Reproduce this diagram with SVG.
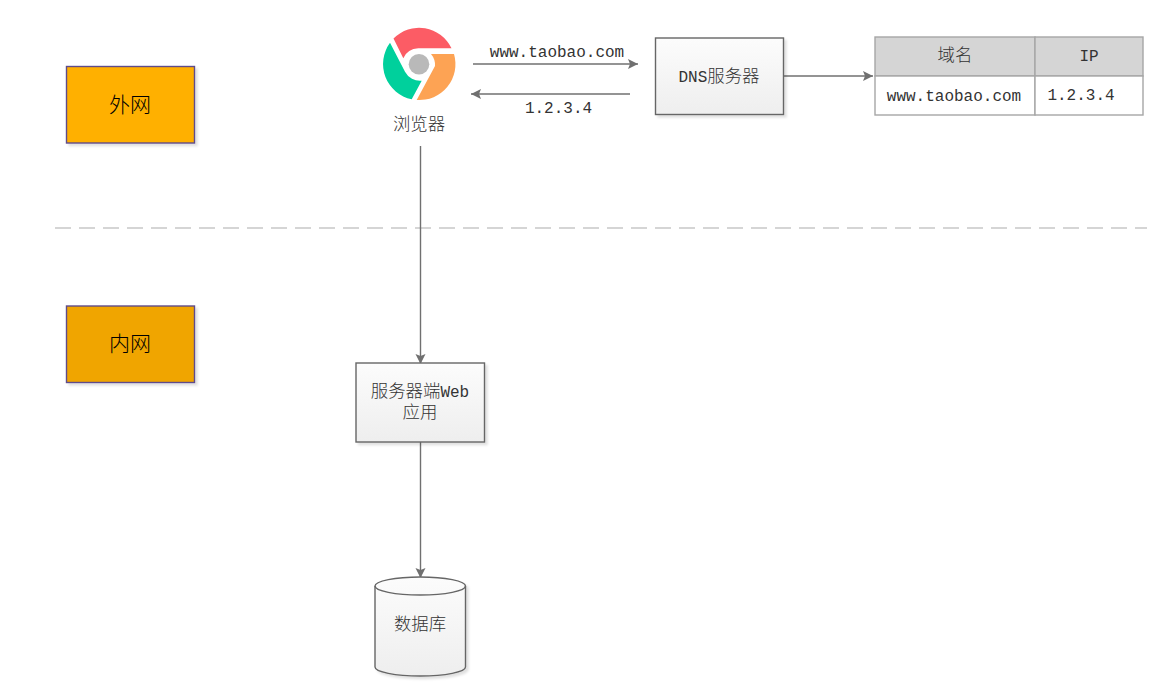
<svg xmlns="http://www.w3.org/2000/svg" width="1176" height="700" viewBox="0 0 1176 700">
<style>
.t{font-family:"Liberation Mono","Noto Sans CJK SC",monospace;font-size:16px;fill:#333;text-anchor:middle}
.c{font-family:"Noto Sans CJK SC","Liberation Serif",serif;font-size:17.4px;font-weight:300;fill:#333;text-anchor:middle}
.m{font-family:"Liberation Mono",monospace;font-size:16px}
.big{font-family:"Noto Sans CJK SC",serif;font-size:21px;font-weight:300;fill:#000;text-anchor:middle}
.box{fill:url(#g);stroke:#666;stroke-width:1.4;filter:url(#s)}
.zone{stroke:#5f4b8b;stroke-width:1.4;filter:url(#s)}
.cn{fill:none;stroke:#707070;stroke-width:1.4}
.cell{stroke:#a6a6a6;stroke-width:1.4}
</style>
<defs>
<linearGradient id="g" x1="0" y1="0" x2="0" y2="1"><stop offset="0" stop-color="#fcfcfc"/><stop offset="1" stop-color="#eeeeee"/></linearGradient>
<filter id="s" x="-10%" y="-10%" width="120%" height="120%"><feDropShadow dx="2.500" dy="2.500" stdDeviation="1.200" flood-color="#000" flood-opacity="0.120"/></filter>
<marker id="a" markerUnits="userSpaceOnUse" markerWidth="11" markerHeight="11" refX="10" refY="5.500" orient="auto"><path d="M0 0.500L10 5.500L0 10.500L2 5.500Z" fill="#707070"/></marker>
</defs>
<g id="connectors">
<line x1="55" y1="228" x2="1147" y2="228" stroke="#c8c8c8" stroke-width="1.400" stroke-dasharray="16 8"/>
<line class="cn" x1="473" y1="64" x2="638" y2="64" marker-end="url(#a)"/>
<line class="cn" x1="630" y1="94" x2="471" y2="94" marker-end="url(#a)"/>
<line class="cn" x1="784" y1="76" x2="873" y2="76" marker-end="url(#a)"/>
<line class="cn" x1="420.500" y1="146" x2="420.500" y2="364" marker-end="url(#a)"/>
<line class="cn" x1="420.500" y1="442" x2="420.500" y2="578" marker-end="url(#a)"/>
</g>
<g id="zone-outer"><rect class="zone" x="66.500" y="66.500" width="128" height="76.500" fill="#ffb000"/><text class="big" x="130" y="112">外网</text></g>
<g id="zone-inner"><rect class="zone" x="66.500" y="306" width="128" height="76.500" fill="#f0a500"/><text class="big" x="130" y="351">内网</text></g>
<g id="browser">
<path d="M393.500 38.500A36 36 0 0 1 451.500 48.300H418.300A17 17 0 0 0 403.300 58.300Z" fill="#fc5c65"/>
<path d="M431 54H454A36 36 0 0 1 416.700 100L435 66A17 17 0 0 0 431 54Z" fill="#fda354"/>
<path d="M390 42.800L405 71.700A17 17 0 0 0 421.700 80.700L411.700 99.300A36 36 0 0 1 390 42.800Z" fill="#00d09c"/>
<circle cx="419" cy="64.300" r="10.300" fill="#b9b9b9"/>
<text class="c" x="419" y="130">浏览器</text>
</g>
<g id="query-label"><text class="t" x="557" y="57">www.taobao.com</text></g>
<g id="reply-label"><text class="t" x="558.500" y="113">1.2.3.4</text></g>
<g id="dns"><rect class="box" x="655.500" y="38" width="128" height="76.500"/><text class="c" x="719" y="82"><tspan class="m">DNS</tspan>服务器</text></g>
<g id="dns-table">
<rect class="cell" x="875" y="37" width="160" height="39" fill="#d5d5d5"/>
<rect class="cell" x="1035" y="37" width="108" height="39" fill="#d5d5d5"/>
<rect class="cell" x="875" y="76" width="160" height="39" fill="#fff"/>
<rect class="cell" x="1035" y="76" width="108" height="39" fill="#fff"/>
<text class="c" x="955" y="61">域名</text>
<text class="t" x="1089" y="61">IP</text>
<text class="t" x="954" y="101">www.taobao.com</text>
<text class="t" x="1081" y="100">1.2.3.4</text>
</g>
<g id="web-app"><rect class="box" x="356" y="363" width="128.500" height="79"/><text class="c"><tspan x="420" y="397">服务器端<tspan class="m">Web</tspan></tspan><tspan x="420" y="418">应用</tspan></text></g>
<g id="database">
<path class="box" d="M375 586A45.250 9 0 0 1 465.500 586V667A45.250 9 0 0 1 375 667Z"/>
<path d="M375 586A45.250 9 0 0 0 465.500 586" fill="none" stroke="#666" stroke-width="1.400"/>
<text class="c" x="420" y="630">数据库</text>
</g>
</svg>
